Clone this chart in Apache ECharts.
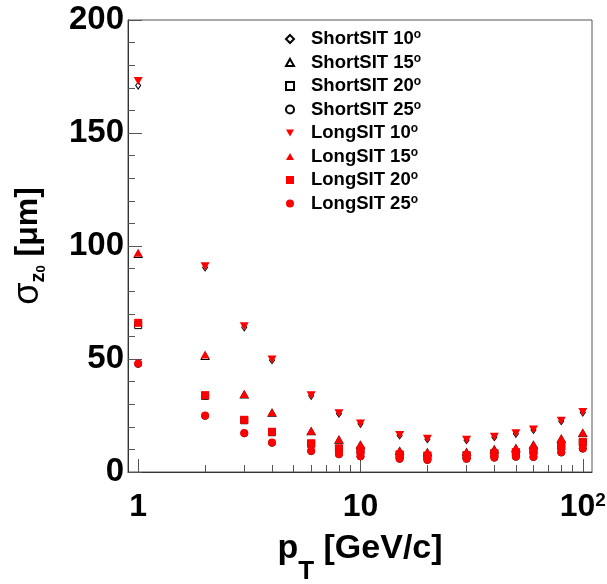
<!DOCTYPE html>
<html>
<head>
<meta charset="utf-8">
<script src="https://cdn.jsdelivr.net/npm/echarts@6/dist/echarts.min.js"></script>
<style>
html,body{margin:0;padding:0;background:#fff;}
#c{width:607px;height:584px;}
</style>
</head>
<body>
<div id="c"></div>
<script>
const pt = [1, 2, 3, 4, 6, 8, 10, 15, 20, 30, 40, 50, 60, 80, 100];

const short10 = [171, 90.5, 64, 49.5, 33.7, 25.8, 21.3, 16.2, 14.5, 14.1, 15.4, 16.9, 18.6, 22.5, 26.3];
const short15 = [96.5, 51.3, 34.3, 26.2, 18.0, 14.3, 12.0, 9.3, 8.7, 8.8, 10.0, 10.5, 12.0, 14.7, 17.2];
const short20 = [65, 33.7, 22.9, 17.6, 12.5, 10.3, 9.4, 7.6, 7.1, 7.3, 8.2, 8.6, 9.3, 11.3, 13.1];
const short25 = [47.8, 24.8, 17.1, 12.9, 9.2, 7.8, 6.9, 5.8, 5.3, 5.8, 6.3, 6.7, 6.6, 8.6, 10.3];

const long10 = [173, 91, 64.5, 49.8, 34.0, 26.0, 21.5, 16.4, 14.7, 14.3, 15.6, 17.1, 18.8, 22.7, 26.6];
const long15 = [97, 52, 34.5, 26.4, 18.2, 14.5, 12.2, 9.5, 8.9, 8.9, 10.1, 10.7, 12.2, 14.9, 17.5];
const long20 = [66, 34, 23.1, 17.8, 12.7, 10.5, 9.6, 7.8, 7.3, 7.5, 8.4, 8.8, 9.5, 11.5, 13.4];
const long25 = [48, 25, 17.3, 13.1, 9.4, 8.0, 7.0, 6.0, 5.4, 6.0, 6.5, 6.9, 6.8, 8.8, 10.5];

const xMajor = [1, 10, 100];
const xMinor = [2, 3, 4, 5, 6, 7, 8, 9, 20, 30, 40, 50, 60, 70, 80, 90];

const FONT = '"Liberation Sans", Arial, Helvetica, sans-serif';
const triDown = 'path://M0,0 L10,0 L5,9 Z';
const triUp = 'path://M5,0 L10,9 L0,9 Z';

function pairs(ys) { return pt.map((x, i) => [x, ys[i]]); }

function openSeries(name, ys, symbol, size) {
  return {
    name, type: 'scatter', data: pairs(ys), symbol, symbolSize: size,
    itemStyle: { color: 'rgba(255,255,255,0)', borderColor: '#000', borderWidth: 1, opacity: 1 },
    z: 2, silent: true
  };
}
function fillSeries(name, ys, symbol, size) {
  return {
    name, type: 'scatter', data: pairs(ys), symbol, symbolSize: size,
    itemStyle: { color: '#ff0000', borderWidth: 0, opacity: 1 },
    z: 3, silent: true
  };
}

const series = [
  openSeries('ShortSIT 10', short10, 'diamond', [5, 7]),
  openSeries('ShortSIT 15', short15, triUp, [8, 7]),
  openSeries('ShortSIT 20', short20, 'rect', 7),
  openSeries('ShortSIT 25', short25, 'circle', 7),
  fillSeries('LongSIT 10', long10, triDown, [9, 8]),
  fillSeries('LongSIT 15', long15, triUp, [9, 8]),
  fillSeries('LongSIT 20', long20, 'rect', 8),
  fillSeries('LongSIT 25', long25, 'circle', 8)
];

const chart = echarts.init(document.getElementById('c'), null, { renderer: 'canvas' });
chart.setOption({
  animation: false,
  backgroundColor: '#fff',
  grid: { left: 128, right: 15, top: 20, bottom: 112, containLabel: false, outerBoundsMode: 'none', show: true, borderColor: '#555', borderWidth: 1, backgroundColor: 'transparent' },
  legend: {
    orient: 'vertical', left: 280, top: 24, itemWidth: 8, itemHeight: 8, itemGap: 4,
    data: series.map(s => s.name),
    formatter: n => '{n|' + n + '}{s|o}',
    textStyle: {
      fontFamily: FONT, color: '#000',
      rich: {
        n: { fontSize: 18.5, fontWeight: 'bold', fontFamily: FONT, lineHeight: 20, color: '#000', padding: [0, 0, 0, 12] },
        s: { fontSize: 12, fontWeight: 'bold', fontFamily: FONT, lineHeight: 12, verticalAlign: 'top', color: '#000' }
      }
    }
  },
  xAxis: [
    {
      type: 'log', logBase: 10, min: 0.9, max: 110,
      axisLine: { show: true, lineStyle: { color: '#333', width: 1 } },
      axisTick: { show: true, inside: true, length: 13, customValues: xMajor, lineStyle: { color: '#555' } },
      splitLine: { show: false },
      axisLabel: {
        customValues: xMajor, margin: 19,
        fontFamily: FONT, fontSize: 32, fontWeight: 'bold', color: '#000',
        formatter: v => { const r = Math.round(v); return r === 100 ? '{n|10}{s|2}' : '{n|' + r + '}'; },
        rich: {
          n: { fontFamily: FONT, fontSize: 32, fontWeight: 'bold', color: '#000', lineHeight: 32 },
          s: { fontFamily: FONT, fontSize: 19, fontWeight: 'bold', color: '#000', lineHeight: 18, verticalAlign: 'top' }
        }
      },
      name: '{m|p}{t|T}{m| [GeV/c]}',
      nameLocation: 'middle', nameGap: 56,
      nameTextStyle: {
        rich: {
          m: { fontFamily: FONT, fontSize: 34, fontWeight: 'bold', color: '#000', lineHeight: 42 },
          t: { fontFamily: FONT, fontSize: 26, fontWeight: 'bold', color: '#000', lineHeight: 22, verticalAlign: 'bottom', padding: [0, 0, -15, 0] }
        }
      }
    },
    {
      type: 'log', logBase: 10, min: 0.9, max: 110, position: 'bottom', offset: 0,
      axisLine: { show: false },
      axisTick: { show: true, inside: true, length: 7, customValues: xMinor, lineStyle: { color: '#555' } },
      axisLabel: { show: false },
      splitLine: { show: false }
    }
  ],
  yAxis: {
    type: 'value', min: 0, max: 200, interval: 50,
    axisLine: { show: true, lineStyle: { color: '#333', width: 1 } },
    axisTick: { show: true, inside: true, length: 14, lineStyle: { color: '#555' } },
    minorTick: { show: true, splitNumber: 5, length: 7, lineStyle: { color: '#555' } },
    splitLine: { show: false },
    axisLabel: { margin: 4, fontFamily: FONT, fontSize: 33, fontWeight: 'bold', color: '#000' },
    name: '{g|σ}{z|z}{o|0}{m| [μm]}',
    nameLocation: 'middle', nameRotate: 90, nameGap: 80,
    nameTextStyle: {
      rich: {
        g: { fontFamily: FONT, fontSize: 36, fontWeight: 'normal', color: '#000', lineHeight: 40 },
        m: { fontFamily: FONT, fontSize: 32, fontWeight: 'bold', color: '#000', lineHeight: 40 },
        z: { fontFamily: FONT, fontSize: 20, fontWeight: 'bold', color: '#000', lineHeight: 20, verticalAlign: 'bottom' },
        o: { fontFamily: FONT, fontSize: 13, fontWeight: 'bold', color: '#000', lineHeight: 12, verticalAlign: 'bottom' }
      }
    }
  },
  series
});
</script>
</body>
</html>
